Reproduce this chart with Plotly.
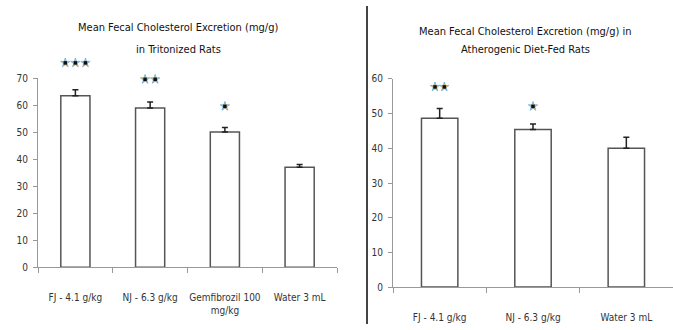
import plotly.graph_objects as go

# Left chart: Tritonized rats
left_cats = ["FJ - 4.1 g/kg", "NJ - 6.3 g/kg", "Gemfibrozil 100<br>mg/kg", "Water 3 mL"]
left_vals = [63.5, 59.0, 50.1, 37.0]
left_err = [2.2, 2.2, 1.7, 1.0]
left_stars = [3, 2, 1, 0]
left_star_y = [75.7, 69.6, 59.6, 0]
left_yticks = [0, 10, 20, 30, 40, 50, 60, 70]

# Right chart: Atherogenic diet-fed rats
right_cats = ["FJ - 4.1 g/kg", "NJ - 6.3 g/kg", "Water 3 mL"]
right_vals = [48.7, 45.4, 40.0]
right_err = [2.8, 1.6, 3.2]
right_stars = [2, 1, 0]
right_star_y = [57.7, 52.1, 0]
right_yticks = [0, 10, 20, 30, 40, 50, 60]

FONT = "DejaVu Sans Condensed, Liberation Sans Narrow, sans-serif"
W, H = 673, 330

fig = go.Figure()

def add_panel(cats, vals, err, stars, star_y, xa, ya, sxa, sya, spacing):
    xs = list(range(len(cats)))
    fig.add_trace(go.Bar(
        x=xs, y=vals, width=0.39, xaxis=xa, yaxis=ya,
        marker=dict(color="white", line=dict(color="#555555", width=1.5)),
        error_y=dict(type="data", symmetric=False, array=err,
                     arrayminus=[0] * len(err), color="#222222",
                     thickness=1.5, width=3),
        showlegend=False, hoverinfo="skip"))
    sx, sy = [], []
    for i, (n, yv) in enumerate(zip(stars, star_y)):
        for k in range(n):
            sx.append(i + (k - (n - 1) / 2) * spacing)
            sy.append(yv)
    fig.add_trace(go.Scatter(
        x=sx, y=sy, mode="markers", xaxis=sxa, yaxis=sya, cliponaxis=False,
        marker=dict(symbol="star", size=7, color="#f0b848",
                    line=dict(color="#6aaee0", width=0.8)),
        showlegend=False, hoverinfo="skip"))
    fig.add_trace(go.Scatter(
        x=sx, y=sy, mode="markers", xaxis=sxa, yaxis=sya, cliponaxis=False,
        marker=dict(symbol="square", size=3.5, color="#101010"),
        showlegend=False, hoverinfo="skip"))

add_panel(left_cats, left_vals, left_err, left_stars, left_star_y,
          "x", "y", "x3", "y3", 0.135)
add_panel(right_cats, right_vals, right_err, right_stars, right_star_y,
          "x2", "y2", "x4", "y4", 0.1)

tickfont = dict(family=FONT, size=10, color="#333333")

def xaxis_cfg(cats, domain, anchor):
    n = len(cats)
    return dict(domain=domain, anchor=anchor, range=[-0.5, n - 0.5],
                tickvals=list(range(n)), ticktext=cats, ticks="", tickangle=0,
                showline=True, linecolor="#999999", linewidth=1,
                showgrid=False, zeroline=False, tickfont=tickfont,
                ticklabelstandoff=21,
                minor=dict(tickvals=[i - 0.5 for i in range(n + 1)],
                           ticks="outside", ticklen=5, tickcolor="#999999",
                           showgrid=False))

def yaxis_cfg(ticks, domain, anchor):
    return dict(domain=domain, anchor=anchor, range=[0, ticks[-1]],
                tickvals=ticks, ticks="outside", ticklen=4,
                tickcolor="#999999", showline=True, linecolor="#999999",
                linewidth=1, showgrid=False, zeroline=False,
                tickfont=tickfont, ticklabelstandoff=3)

def hidden_axis(domain, anchor, rng):
    return dict(domain=domain, anchor=anchor, range=rng, visible=False,
                showgrid=False, zeroline=False, fixedrange=True)

# pixel geometry of the two panels
L_x0, L_x1, L_y0, L_ytop = 38, 337, 271, 75      # left: 0 at 271px, 70 at 75px
R_x0, R_x1, R_y0, R_ytop = 393, 673, 291.7, 75.7  # right: 0 at 291.7px, 60 at 75.7px
L_ppu = (L_y0 - L_ytop) / left_yticks[-1]
R_ppu = (R_y0 - R_ytop) / right_yticks[-1]
STAR_TOP_L, STAR_TOP_R = 85, 70
fig.update_layout(
    width=W, height=H, margin=dict(l=0, r=0, t=0, b=0),
    paper_bgcolor="white", plot_bgcolor="rgba(0,0,0,0)",
    xaxis=xaxis_cfg(left_cats, [L_x0 / W, L_x1 / W], "y"),
    yaxis=yaxis_cfg(left_yticks, [(H - L_y0) / H, (H - L_ytop) / H], "x"),
    xaxis2=xaxis_cfg(right_cats, [R_x0 / W, R_x1 / W], "y2"),
    yaxis2=yaxis_cfg(right_yticks, [(H - R_y0) / H, (H - R_ytop) / H], "x2"),
    xaxis3=hidden_axis([L_x0 / W, L_x1 / W], "y3", [-0.5, len(left_cats) - 0.5]),
    yaxis3=hidden_axis([(H - L_y0) / H, (H - (L_y0 - STAR_TOP_L * L_ppu)) / H], "x3",
                       [0, STAR_TOP_L]),
    xaxis4=hidden_axis([R_x0 / W, R_x1 / W], "y4", [-0.5, len(right_cats) - 0.5]),
    yaxis4=hidden_axis([(H - R_y0) / H, (H - (R_y0 - STAR_TOP_R * R_ppu)) / H], "x4",
                       [0, STAR_TOP_R]),
    bargap=0.6,
)

titles = [
    ("Mean Fecal Cholesterol Excretion (mg/g)", 178, 22),
    ("in Tritonized Rats", 178, 45),
    ("Mean Fecal Cholesterol Excretion (mg/g) in", 525, 26),
    ("Atherogenic Diet-Fed Rats", 525, 45),
]
for txt, px, py in titles:
    fig.add_annotation(text=txt, x=px / W, y=1 - py / H, xref="paper", yref="paper",
                       showarrow=False, xanchor="center", yanchor="middle",
                       font=dict(family=FONT, size=11, color="#111111"))

fig.add_shape(type="line", xref="paper", yref="paper", x0=367 / W, x1=367 / W,
              y0=0, y1=1, line=dict(color="#444444", width=2))

fig.write_html("out.html", config={"displayModeBar": False},
               post_script="document.body.style.margin='0';document.body.style.overflow='hidden';")
